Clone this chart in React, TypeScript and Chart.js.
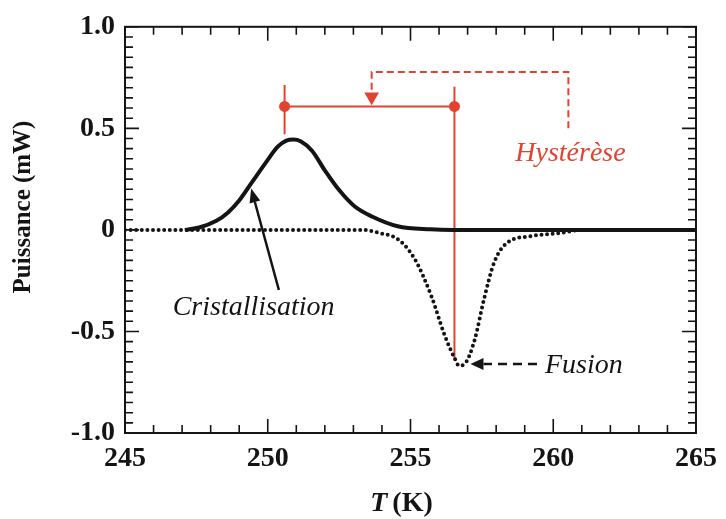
import React, { useEffect, useRef } from "react";
import { Chart, registerables } from "chart.js";
Chart.register(...registerables);

const FONT = "'Liberation Serif', 'Times New Roman', serif";
const RED = "#e2432f";
const INK = "#141414";

// Axis ticks
const xTicks = [245, 250, 255, 260, 265];
const xTickLabels = ["245", "250", "255", "260", "265"];
const yTicks = [-1, -0.5, 0, 0.5, 1];
const yTickLabels = ["-1.0", "-0.5", "0", "0.5", "1.0"];
const xMinorStep = 1;
const yMinorStep = 0.05;
const xTitleItalic = "T";
const xTitleRest = " (K)";
const yTitle = "Puissance (mW)";

// Cristallisation (solid)
const cristT = [247.1, 247.6, 248.2, 248.6, 249.0, 249.45, 249.95, 250.35, 250.65, 250.9, 251.15, 251.55, 252.0, 252.5, 253.05, 253.65, 254.55, 255.7, 256.5, 265];
const cristP = [0, 0.012, 0.045, 0.085, 0.145, 0.235, 0.335, 0.41, 0.44, 0.445, 0.437, 0.39, 0.293, 0.196, 0.115, 0.066, 0.018, 0.003, 0, 0];

// Fusion (dotted)
const fusionT = [245, 253.3, 253.9, 254.57, 255.15, 255.72, 256.19, 256.54, 256.7, 256.88, 257.23, 257.58, 257.93, 258.39, 259.2, 260.36, 260.85];
const fusionP = [0, 0, -0.015, -0.047, -0.144, -0.322, -0.516, -0.63, -0.668, -0.662, -0.55, -0.338, -0.16, -0.063, -0.031, -0.013, 0];

// Hystérèse annotation (data units)
const hystLeftT = [250.59, 250.59];
const hystLeftP = [0.714, 0.471];
const hystBarT = [250.59, 256.54];
const hystBarP = [0.608, 0.608];
const hystRightT = [256.54, 256.54];
const hystRightP = [0.705, -0.64];
const hystDashT = [253.64, 253.64, 260.53, 260.53];
const hystDashP = [0.69, 0.778, 0.778, 0.495];
const hystArrowT = [253.64];
const hystArrowP = [0.655];

// Labels & arrows
const labelTexts = ["Cristallisation", "Fusion", "Hystérèse"];
const labelT = [246.67, 259.71, 258.67];
const labelP = [-0.417, -0.704, 0.34];
const labelColors = [INK, INK, RED];
// arrows: [tipT, tipP, tailT, tailP]
const cristArrow = [249.42, 0.204, 250.39, -0.296];
const fusionArrow = [257.1, -0.66, 259.43, -0.66];

const toPts = (t: number[], p: number[]) => t.map((v, i) => ({ x: v, y: p[i] }));

const overlay = {
  id: "overlay",
  afterDraw(chart: any) {
    const { ctx, chartArea: ca, scales } = chart;
    const xs = scales.x;
    const ys = scales.y;
    ctx.save();
    // frame
    ctx.strokeStyle = INK;
    ctx.lineWidth = 2;
    ctx.strokeRect(ca.left, ca.top, ca.right - ca.left, ca.bottom - ca.top);
    // ticks
    ctx.lineWidth = 1.6;
    ctx.beginPath();
    const xmin = xTicks[0], xmax = xTicks[xTicks.length - 1];
    const nX = Math.round((xmax - xmin) / xMinorStep);
    for (let i = 0; i <= nX; i++) {
      const v = xmin + i * xMinorStep;
      const px = xs.getPixelForValue(v);
      const len = xTicks.some((t) => Math.abs(t - v) < 1e-6) ? 14 : 8;
      ctx.moveTo(px, ca.bottom);
      ctx.lineTo(px, ca.bottom - len);
      ctx.moveTo(px, ca.top);
      ctx.lineTo(px, ca.top + len);
    }
    const ymin = yTicks[0], ymax = yTicks[yTicks.length - 1];
    const nY = Math.round((ymax - ymin) / yMinorStep);
    for (let i = 0; i <= nY; i++) {
      const v = ymin + i * yMinorStep;
      const py = ys.getPixelForValue(v);
      const len = yTicks.some((t) => Math.abs(t - v) < 1e-6) ? 14 : 8;
      ctx.moveTo(ca.left, py);
      ctx.lineTo(ca.left + len, py);
      ctx.moveTo(ca.right, py);
      ctx.lineTo(ca.right - len, py);
    }
    ctx.stroke();

    // axis titles
    ctx.fillStyle = INK;
    ctx.textBaseline = "alphabetic";
    ctx.font = `italic bold 28px ${FONT}`;
    const w1 = ctx.measureText(xTitleItalic).width;
    ctx.font = `bold 28px ${FONT}`;
    const w2 = ctx.measureText(xTitleRest).width;
    const cx = (ca.left + ca.right) / 2 - 8;
    const startX = cx - (w1 + w2) / 2;
    ctx.font = `italic bold 28px ${FONT}`;
    ctx.textAlign = "left";
    ctx.fillText(xTitleItalic, startX, 511);
    ctx.font = `bold 28px ${FONT}`;
    ctx.fillText(xTitleRest, startX + w1 - 2, 511);

    ctx.save();
    ctx.translate(24, 207);
    ctx.rotate(-Math.PI / 2);
    ctx.font = `bold 25px ${FONT}`;
    ctx.textAlign = "center";
    ctx.textBaseline = "middle";
    ctx.fillText(yTitle, 0, 0);
    ctx.restore();

    // labels
    ctx.font = `italic 28px ${FONT}`;
    ctx.textAlign = "left";
    ctx.textBaseline = "alphabetic";
    labelTexts.forEach((t, i) => {
      ctx.fillStyle = labelColors[i];
      ctx.fillText(t, xs.getPixelForValue(labelT[i]), ys.getPixelForValue(labelP[i]));
    });

    // arrows
    const arrow = (a: number[], dash: number[], headLen: number, headW: number) => {
      const tx = xs.getPixelForValue(a[0]);
      const ty = ys.getPixelForValue(a[1]);
      const sx = xs.getPixelForValue(a[2]);
      const sy = ys.getPixelForValue(a[3]);
      const ang = Math.atan2(ty - sy, tx - sx);
      const bx = tx - Math.cos(ang) * headLen;
      const by = ty - Math.sin(ang) * headLen;
      ctx.strokeStyle = INK;
      ctx.fillStyle = INK;
      ctx.lineWidth = 2.5;
      ctx.setLineDash(dash);
      ctx.beginPath();
      ctx.moveTo(sx, sy);
      ctx.lineTo(bx, by);
      ctx.stroke();
      ctx.setLineDash([]);
      ctx.beginPath();
      ctx.moveTo(tx, ty);
      ctx.lineTo(bx + Math.sin(ang) * headW / 2, by - Math.cos(ang) * headW / 2);
      ctx.lineTo(bx - Math.sin(ang) * headW / 2, by + Math.cos(ang) * headW / 2);
      ctx.closePath();
      ctx.fill();
    };
    arrow(cristArrow, [], 14, 11);
    arrow(fusionArrow, [9, 6], 13, 12);
    ctx.restore();
  },
};

export default function App() {
  const ref = useRef<HTMLCanvasElement | null>(null);
  useEffect(() => {
    if (!ref.current) return;
    const redLine = (t: number[], p: number[], extra: any = {}) => ({
      data: toPts(t, p),
      borderColor: RED,
      backgroundColor: RED,
      borderWidth: 2,
      pointRadius: 0,
      showLine: true,
      tension: 0,
      ...extra,
    });
    const chart = new Chart(ref.current, {
      type: "scatter",
      data: {
        datasets: [
          redLine(hystDashT, hystDashP, { borderDash: [7, 4], order: 5 }),
          redLine(hystLeftT, hystLeftP, { order: 5 }),
          redLine(hystRightT, hystRightP, { order: 5 }),
          redLine(hystBarT, hystBarP, { pointRadius: 5.5, pointBorderWidth: 0, order: 4 }),
          {
            data: toPts(hystArrowT, hystArrowP),
            showLine: false,
            pointStyle: "triangle",
            rotation: 180,
            pointRadius: 8.5,
            pointBorderWidth: 0,
            backgroundColor: RED,
            borderColor: RED,
            order: 4,
          },
          {
            data: toPts(fusionT, fusionP),
            showLine: true,
            borderColor: INK,
            borderWidth: 4,
            borderDash: [0, 5.6],
            borderCapStyle: "round",
            pointRadius: 0,
            cubicInterpolationMode: "monotone",
            order: 3,
          },
          {
            data: toPts(cristT, cristP),
            showLine: true,
            borderColor: INK,
            borderWidth: 4,
            pointRadius: 0,
            cubicInterpolationMode: "monotone",
            borderJoinStyle: "round",
            order: 1,
          },
        ],
      } as any,
      options: {
        responsive: false,
        maintainAspectRatio: false,
        animation: false,
        layout: { padding: { top: 21, right: 26, left: 0, bottom: 0 } },
        plugins: { legend: { display: false }, tooltip: { enabled: false } },
        scales: {
          x: {
            type: "linear",
            min: 245,
            max: 265,
            afterBuildTicks: (s: any) => {
              s.ticks = xTicks.map((v) => ({ value: v }));
            },
            afterFit: (s: any) => {
              s.height = 86;
            },
            ticks: {
              autoSkip: false,
              maxRotation: 0,
              padding: 9,
              color: INK,
              font: { family: FONT, size: 28, weight: "bold" },
              callback: (v: any) => xTickLabels[xTicks.indexOf(Number(v))] ?? "",
            },
            grid: { display: false, drawTicks: false },
            border: { display: false },
          },
          y: {
            type: "linear",
            min: -1,
            max: 1,
            afterBuildTicks: (s: any) => {
              s.ticks = yTicks.map((v) => ({ value: v }));
            },
            afterFit: (s: any) => {
              s.width = 125;
            },
            ticks: {
              autoSkip: false,
              padding: 10,
              color: INK,
              font: { family: FONT, size: 28, weight: "bold" },
              callback: (v: any) => yTickLabels[yTicks.indexOf(Number(v))] ?? "",
            },
            grid: { display: false, drawTicks: false },
            border: { display: false },
          },
        },
      } as any,
      plugins: [overlay],
    });
    return () => chart.destroy();
  }, []);
  return (
    <div style={{ position: "fixed", left: 0, top: 0, width: 726, height: 519, background: "#fff" }}>
      <canvas ref={ref} width={726} height={519} style={{ width: 726, height: 519, display: "block" }} />
    </div>
  );
}
